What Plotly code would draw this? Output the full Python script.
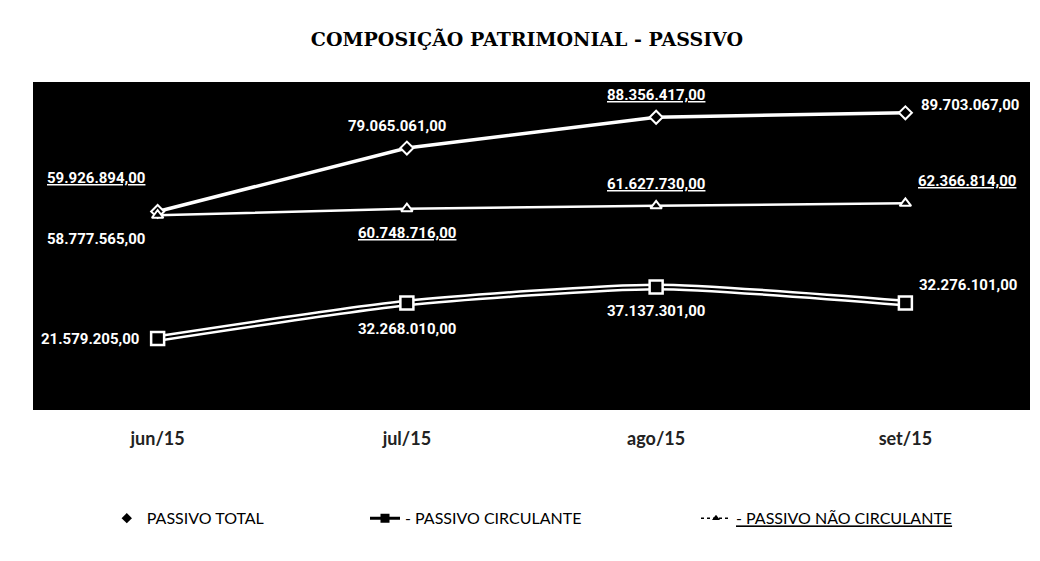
import plotly.graph_objects as go

meses = ['jun/15', 'jul/15', 'ago/15', 'set/15']
passivo_total = [59926894.00, 79065061.00, 88356417.00, 89703067.00]
passivo_circulante = [21579205.00, 32268010.00, 37137301.00, 32276101.00]
passivo_nao_circulante = [58777565.00, 60748716.00, 61627730.00, 62366814.00]


def fmt_br(v):
    # 59926894.0 -> 59.926.894,00
    s = '{:,.2f}'.format(v)
    return s.replace(',', '#').replace('.', ',').replace('#', '.')


fig = go.Figure()

# passivo total
fig.add_trace(go.Scatter(
    x=meses, y=passivo_total, mode='lines+markers', showlegend=False,
    line=dict(color='white', width=3.5),
    marker=dict(symbol='diamond', size=10, color='black',
                line=dict(color='white', width=2))))

# passivo nao circulante
fig.add_trace(go.Scatter(
    x=meses, y=passivo_nao_circulante, mode='lines+markers', showlegend=False,
    line=dict(color='white', width=2.5),
    marker=dict(symbol='triangle-up', size=10, color='black',
                line=dict(color='white', width=2))))

# passivo circulante (linha dupla)
fig.add_trace(go.Scatter(
    x=meses, y=passivo_circulante, mode='lines', showlegend=False,
    line=dict(color='white', width=7, shape='spline', smoothing=0.6)))
fig.add_trace(go.Scatter(
    x=meses, y=passivo_circulante, mode='lines+markers', showlegend=False,
    line=dict(color='black', width=2, shape='spline', smoothing=0.6),
    marker=dict(symbol='square', size=13, color='black',
                line=dict(color='white', width=2.5))))

# legenda (tres legendas separadas para controlar o espacamento)
leg_font = dict(family='Lato, Open Sans, sans-serif', size=16, color='black')
fig.add_trace(go.Scatter(x=[None], y=[None], mode='markers', name='PASSIVO TOTAL',
                         legend='legend',
                         marker=dict(symbol='diamond', size=8, color='black')))
fig.add_trace(go.Scatter(x=[None], y=[None], mode='lines+markers', name='- PASSIVO CIRCULANTE',
                         legend='legend2',
                         line=dict(color='black', width=3),
                         marker=dict(symbol='square', size=9, color='black')))
fig.add_trace(go.Scatter(x=[None], y=[None], mode='lines+markers',
                         name='<span style="text-decoration:underline">- PASSIVO NÃO CIRCULANTE</span>',
                         legend='legend3',
                         line=dict(color='black', width=1.5, dash='dot'),
                         marker=dict(symbol='triangle-up', size=7, color='black')))

# rotulos de dados
lbl_font = dict(family='Roboto, sans-serif', size=15, color='white')
offs_total = [(-62, 33, True), (-10, 22, False), (0, 22, True), (65, 8, False)]
offs_nc = [(-62, -24, False), (0, -24, True), (0, 22, True), (62, 22, True)]
offs_circ = [(-68, 0, False), (0, -26, False), (0, -24, False), (63, 18, False)]

for serie, offs in [(passivo_total, offs_total), (passivo_nao_circulante, offs_nc),
                    (passivo_circulante, offs_circ)]:
    for m, v, (dx, dy, sub) in zip(meses, serie, offs):
        txt = fmt_br(v)
        if sub:
            txt = '<span style="text-decoration:underline">' + txt + '</span>'
        fig.add_annotation(x=m, y=v, text='<b>' + txt + '</b>', showarrow=False,
                           xshift=dx, yshift=dy, font=lbl_font)

fig.update_layout(
    width=1040, height=561,
    margin=dict(l=25, r=18, t=74, b=159),
    paper_bgcolor='white', plot_bgcolor='black',
    title=dict(text='<b>COMPOSIÇÃO PATRIMONIAL - PASSIVO</b>', x=0.499, xanchor='center',
               y=0.945, yanchor='middle',
               font=dict(family='DejaVu Serif, serif', size=19, color='black')),
    legend=dict(orientation='h', x=0.074, xanchor='left', y=-0.33, yanchor='middle',
                font=leg_font),
    legend2=dict(orientation='h', x=0.333, xanchor='left', y=-0.33, yanchor='middle',
                 font=leg_font),
    legend3=dict(orientation='h', x=0.665, xanchor='left', y=-0.33, yanchor='middle',
                 font=leg_font),
    xaxis=dict(showgrid=False, zeroline=False, showline=False, ticks='',
               ticklabelstandoff=16,
               tickfont=dict(family='Lato, Open Sans, sans-serif', size=18, color='#222',
                             weight='bold'),
               range=[-0.5, 3.5]),
    yaxis=dict(visible=False, range=[0, 0.99e8]),
)

fig.write_html('out.html')
